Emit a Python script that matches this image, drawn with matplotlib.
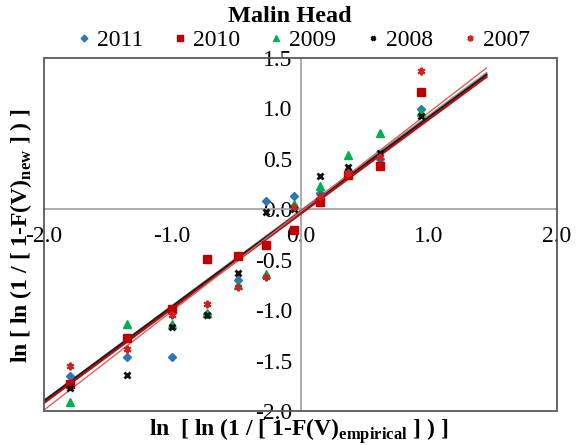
import numpy as np
import matplotlib
matplotlib.use("Agg")
import matplotlib.pyplot as plt
from matplotlib.patches import Rectangle

# Données (Malin Head)
x_emp = [-1.80, -1.35, -1.00, -0.73, -0.49, -0.27, -0.05, 0.15, 0.37, 0.62, 0.94]

y_2011 = [-1.65, -1.46, -1.46, -1.04, -0.70, 0.08, 0.13, 0.16, 0.38, 0.50, 0.99]
y_2010 = [-1.73, -1.28, -0.99, -0.49, -0.46, -0.35, -0.21, 0.07, 0.34, 0.43, 1.16]
y_2009 = [-1.91, -1.14, -1.14, -1.03, -0.75, -0.64, 0.05, 0.23, 0.54, 0.76, 0.96]
y_2008 = [-1.77, -1.64, -1.17, -1.05, -0.63, -0.03, 0.00, 0.33, 0.42, 0.56, 0.92]
y_2007 = [-1.55, -1.39, -1.05, -0.94, -0.77, -0.67, 0.02, 0.13, 0.36, 0.52, 1.37]

# Droites de tendance (pente, ordonnée à l'origine)
trend_labels = ["2011", "2008", "2010", "2007"]
trend_slope = [0.942, 0.937, 0.937, 0.983]
trend_inter = [-0.016, -0.026, -0.046, -0.024]
trend_x = [-2.0, 1.45]

x_ticks = [-2.0, -1.0, 0.0, 1.0, 2.0]
y_ticks = [-2.0, -1.5, -1.0, -0.5, 0.0, 0.5, 1.0, 1.5]

plt.rcParams['font.family'] = ['Liberation Serif', 'DejaVu Serif']
plt.rcParams['mathtext.fontset'] = 'custom'
plt.rcParams['mathtext.rm'] = 'Liberation Serif:bold'

fig = plt.figure(figsize=(5.84, 4.45), dpi=100)
ax = fig.add_axes([44 / 584, 1 - 411 / 445, 513 / 584, 353 / 445])

# Tendances
trend_style = {
    "2011": dict(color="#8c8c8c", lw=1.6),
    "2008": dict(color="#1a1a1a", lw=1.6),
    "2010": dict(color="#b01010", lw=1.6),
    "2007": dict(color="#e06060", lw=1.0),
}
for lab, a, b in zip(trend_labels, trend_slope, trend_inter):
    xs = np.array(trend_x)
    ax.plot(xs, a * xs + b, zorder=3, **trend_style[lab])

# Séries
ax.plot(x_emp, y_2011, ls="none", marker="D", ms=4.5, color="#2e75b6", label="2011", zorder=4)
ax.plot(x_emp, y_2010, ls="none", marker="s", ms=5.5, color="#c00000", label="2010", zorder=4)
ax.plot(x_emp, y_2009, ls="none", marker="^", ms=6, color="#00b050", label="2009", zorder=4)
ax.plot(x_emp, y_2008, ls="none", marker="x", ms=4.5, mew=2, color="#111111", label="2008", zorder=4)
ax.plot(x_emp, y_2007, ls="none", marker=(6, 2, 0), ms=5.5, mew=1.5, color="#d02020", label="2007", zorder=4)

ax.set_xlim(-2, 2)
ax.set_ylim(-2, 1.5)

# Axes passant par l'origine
for s in ["top", "right"]:
    ax.spines[s].set_visible(False)
ax.spines["left"].set_position(("data", 0))
ax.spines["bottom"].set_position(("data", 0))
ax.spines["left"].set_color("#a6a6a6")
ax.spines["bottom"].set_color("#a6a6a6")
ax.spines["left"].set_linewidth(1.3)
ax.spines["bottom"].set_linewidth(1.3)
ax.add_patch(Rectangle((0, 0), 1, 1, transform=ax.transAxes, fill=False,
                       ec="#595959", lw=1.3, clip_on=False, zorder=5))

ax.set_xticks(x_ticks)
ax.set_yticks(y_ticks)
ax.set_xticklabels([f"{v:.1f}" for v in x_ticks])
ax.set_yticklabels([f"{v:.1f}" for v in y_ticks])
ax.tick_params(axis="x", length=0, pad=12, labelsize=17)
ax.tick_params(axis="y", length=0, pad=6, labelsize=17)

fig.text(0.497, 0.962, "Malin Head", ha="center", va="center", fontsize=17.5, fontweight="bold")
fig.legend(loc="center", bbox_to_anchor=(0.52, 0.91), ncol=5, frameon=False,
           fontsize=17, handlelength=0.5, handletextpad=0.3, columnspacing=1.3,
           markerscale=0.75)

fig.text(0.512, 0.03, r"ln  [ ln (1 / [ 1-F(V)$_{\mathrm{empirical}}$ ] ) ]",
         ha="center", va="center", fontsize=17, fontweight="bold")
fig.text(0.036, 0.47, r"ln [ ln (1 / [ 1-F(V)$_{\mathrm{new}}$ ] ) ]",
         ha="center", va="center", rotation=90, fontsize=17, fontweight="bold")

fig.savefig("out.png", dpi=100)
